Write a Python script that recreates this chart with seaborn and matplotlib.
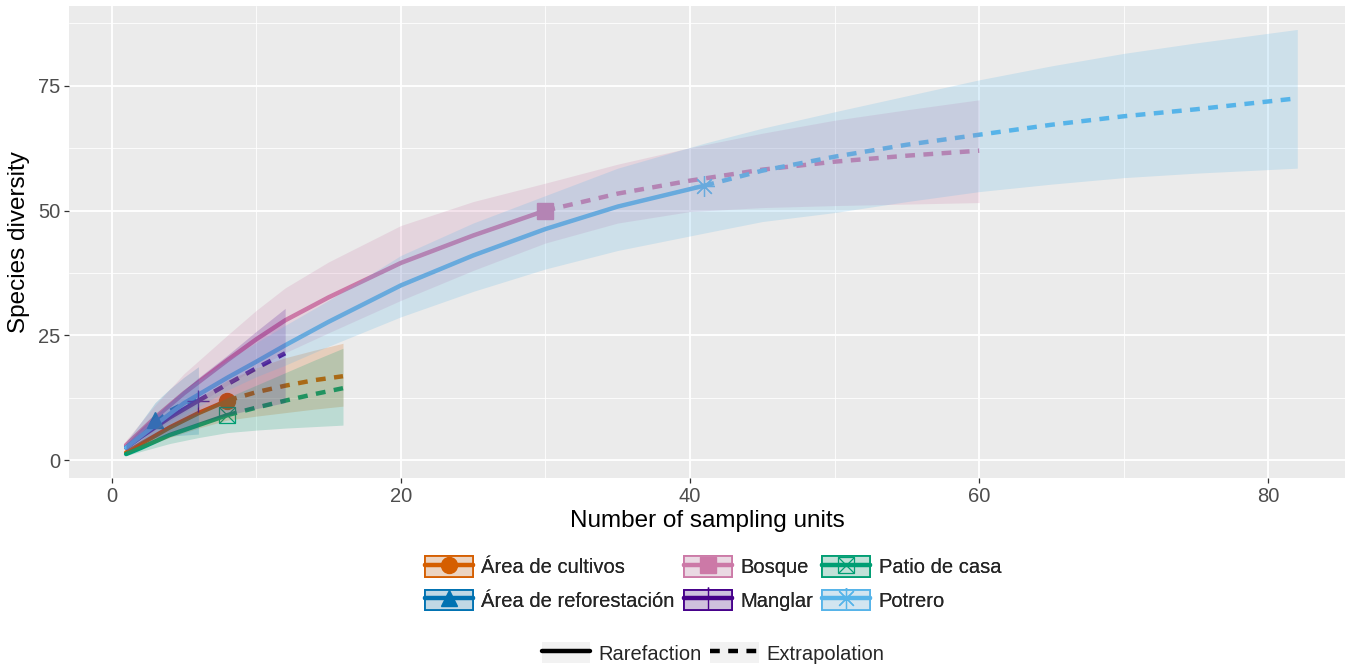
import numpy as np
import pandas as pd
import matplotlib
matplotlib.use("Agg")
import matplotlib.pyplot as plt
import seaborn as sns
from matplotlib.lines import Line2D
from matplotlib.patches import Patch
from matplotlib.legend_handler import HandlerTuple
from matplotlib.colors import to_rgba

# ---------------- data ----------------
sites = ["Área de cultivos", "Área de reforestación", "Bosque",
         "Manglar", "Patio de casa", "Potrero"]
colors = ["#D55E00", "#0072B2", "#CC79A7", "#46008A", "#009E73", "#56B4E9"]
obs_t = [8, 3, 30, 6, 8, 41]          # observed sampling units (reference sample)

cult_t = [1, 2, 4, 6, 8, 10, 12, 14, 16]
cult_s = [1.5, 3.2, 6.5, 9.4, 11.9, 13.6, 14.9, 16.0, 16.8]
cult_lo = [1.2, 2.4, 4.5, 6.4, 8.0, 8.8, 9.5, 10.2, 10.8]
cult_hi = [1.8, 4.0, 8.5, 12.4, 16.0, 18.5, 20.5, 22.0, 23.4]

refo_t = [1, 2, 3, 4, 5, 6]
refo_s = [2.8, 5.5, 8.0, 9.8, 11.3, 12.6]
refo_lo = [2.0, 3.5, 4.5, 4.8, 5.0, 5.2]
refo_hi = [3.6, 7.5, 11.5, 14.2, 16.6, 18.7]

bosq_t = [1, 3, 5, 8, 10, 12, 15, 20, 25, 30, 35, 40, 45, 50, 55, 60]
bosq_s = [3.0, 8.5, 13.4, 20.0, 24.2, 28.0, 32.6, 39.5, 45.0, 50.0,
          53.4, 56.0, 58.2, 59.8, 61.0, 62.0]
bosq_lo = [2.0, 6.0, 9.5, 15.0, 18.5, 21.5, 25.5, 32.0, 38.0, 43.5,
           47.5, 49.8, 50.6, 51.0, 51.3, 51.6]
bosq_hi = [4.0, 11.0, 17.3, 25.0, 30.0, 34.5, 39.7, 47.0, 51.8, 55.5,
           59.3, 62.6, 65.5, 68.1, 70.2, 72.2]

mang_t = [1, 2, 4, 6, 8, 10, 12]
mang_s = [2.5, 4.6, 8.5, 11.9, 15.2, 18.4, 21.4]
mang_lo = [1.8, 3.0, 5.5, 7.5, 9.0, 10.3, 11.5]
mang_hi = [3.2, 6.2, 11.5, 16.5, 21.0, 25.8, 30.4]

pati_t = [1, 2, 4, 6, 8, 10, 12, 14, 16]
pati_s = [1.2, 2.4, 5.0, 7.0, 9.0, 10.5, 11.9, 13.2, 14.4]
pati_lo = [0.9, 1.7, 3.3, 4.5, 5.5, 6.0, 6.4, 6.7, 7.0]
pati_hi = [1.5, 3.2, 6.8, 9.5, 12.5, 15.0, 17.5, 20.0, 22.4]

potr_t = [1, 3, 5, 8, 10, 12, 15, 20, 25, 30, 35, 41,
          45, 50, 55, 60, 65, 70, 75, 82]
potr_s = [2.5, 7.0, 11.4, 16.5, 19.7, 23.0, 27.7, 35.0, 41.0, 46.3, 50.8, 55.0,
          58.0, 60.8, 63.2, 65.2, 67.2, 68.9, 70.3, 72.5]
potr_lo = [1.8, 5.5, 9.0, 14.0, 16.7, 19.0, 22.8, 28.7, 33.8, 38.3, 42.0, 45.5,
           47.8, 49.6, 51.8, 53.8, 55.3, 56.6, 57.5, 58.5]
potr_hi = [3.2, 8.8, 14.0, 20.0, 23.5, 27.0, 32.0, 41.0, 47.5, 53.0, 58.5, 63.5,
           66.5, 69.8, 73.0, 76.2, 79.0, 81.5, 83.6, 86.3]

ticks_x = [0, 20, 40, 60, 80]
ticks_y = [0, 25, 50, 75]

# ---------------- build table ----------------
series = [(cult_t, cult_s, cult_lo, cult_hi), (refo_t, refo_s, refo_lo, refo_hi),
          (bosq_t, bosq_s, bosq_lo, bosq_hi), (mang_t, mang_s, mang_lo, mang_hi),
          (pati_t, pati_s, pati_lo, pati_hi), (potr_t, potr_s, potr_lo, potr_hi)]
rows = []
for site, ot, (t, s, lo, hi) in zip(sites, obs_t, series):
    for ti, si, li, hi_ in zip(t, s, lo, hi):
        if ti <= ot:
            rows.append((site, ti, si, li, hi_, "Rarefaction"))
        if ti >= ot:
            rows.append((site, ti, si, li, hi_, "Extrapolation"))
df = pd.DataFrame(rows, columns=["site", "t", "s", "lo", "hi", "method"])

# ---------------- style ----------------
sns.set_theme(style="darkgrid")
plt.rcParams["font.family"] = ["Liberation Sans", "DejaVu Sans"]
plt.rcParams["axes.facecolor"] = "#EBEBEB"

fig = plt.figure(figsize=(13.66, 6.67), dpi=100)
ax = fig.add_axes([69 / 1366, 1 - 478 / 667, (1345 - 69) / 1366, (478 - 6) / 667])
ax.set_facecolor("#EBEBEB")

markers = {
    "Área de cultivos": [dict(marker="o", ms=11.5)],
    "Área de reforestación": [dict(marker="^", ms=11)],
    "Bosque": [dict(marker="s", ms=11)],
    "Manglar": [dict(marker="+", ms=16, mew=1.0)],
    "Patio de casa": [dict(marker="s", ms=11.5, mfc="none", mew=0.9),
                      dict(marker="x", ms=11.5, mew=0.9)],
    "Potrero": [dict(marker=(8, 2, 0), ms=15, mew=0.9)],
}

DASH = (2.2, 1.9)
for site, color, ot in zip(sites, colors, obs_t):
    sub = df[df.site == site]
    rar = sub[sub.method == "Rarefaction"]
    ext = sub[sub.method == "Extrapolation"]
    sns.lineplot(data=rar, x="t", y="s", color=color, lw=3.2, ax=ax,
                 estimator=None, sort=True, zorder=2)
    sns.lineplot(data=ext, x="t", y="s", color=color, lw=3.2, ax=ax,
                 estimator=None, sort=True, zorder=2)
    ax.lines[-1].set_dashes(DASH)
    ax.lines[-1].set_dash_capstyle("butt")
    full = sub.drop_duplicates("t").sort_values("t")
    ax.fill_between(full.t, full.lo, full.hi, color=color, alpha=0.2, lw=0, zorder=3)
    obs_s = float(full[full.t == ot].s.iloc[0])
    for mk in markers[site]:
        ax.plot([ot], [obs_s], color=color, ls="none", zorder=2.5, **mk)

# axes
ax.set_xlim(-2.95, 85.3)
ax.set_ylim(-3.6, 91.0)
ax.set_xticks(ticks_x)
ax.set_yticks(ticks_y)
ax.set_xticks([10, 30, 50, 70], minor=True)
ax.set_yticks([12.5, 37.5, 62.5, 87.5], minor=True)
ax.grid(which="major", color="white", lw=1.3)
ax.grid(which="minor", color="white", lw=0.6)
for sp in ax.spines.values():
    sp.set_visible(False)
ax.tick_params(axis="both", which="major", length=3.8, width=0.9, color="#333333",
               labelsize=14.5, labelcolor="#4D4D4D", pad=2.5, bottom=True, left=True)
ax.tick_params(axis="both", which="minor", length=0)
ax.set_xlabel("Number of sampling units", fontsize=17.5, color="black", labelpad=3)
ax.set_ylabel("Species diversity", fontsize=17.5, color="black", labelpad=6)

# ---------------- legends ----------------
handles1 = []
for site, color in zip(sites, colors):
    h = [Patch(facecolor="#F2F2F2", edgecolor="none"),
         Patch(facecolor=to_rgba(color, 0.2), edgecolor=color, lw=1.3),
         Line2D([], [], color=color, lw=3.2)]
    for mk in markers[site]:
        h.append(Line2D([], [], color=color, ls="none", **mk))
    handles1.append(tuple(h))

hm = {tuple: HandlerTuple(ndivide=1, pad=0)}
leg1 = fig.legend(handles1, sites, loc="upper center",
                  bbox_to_anchor=(713 / 1366, 1 - 556 / 667), ncol=3, frameon=False,
                  fontsize=14.5, handlelength=2.4, handleheight=1.2, handletextpad=0.4,
                  columnspacing=0.45, labelspacing=0.62, borderpad=0, borderaxespad=0,
                  numpoints=1, handler_map=hm)

bg = Patch(facecolor="#F2F2F2", edgecolor="none")
solid = Line2D([], [], color="black", lw=3.2)
dashed = Line2D([], [], color="black", lw=3.2, dashes=DASH, dash_capstyle="butt")
leg2 = fig.legend([(bg, solid), (bg, dashed)], ["Rarefaction", "Extrapolation"],
                  loc="center", bbox_to_anchor=(713 / 1366, 1 - 653 / 667), ncol=2,
                  frameon=False, fontsize=14.5, handlelength=2.4, handleheight=1.2,
                  handletextpad=0.4, columnspacing=0.45, borderpad=0, borderaxespad=0,
                  handler_map=hm)
fig.add_artist(leg1)

fig.savefig("out.png", dpi=100, facecolor="white")
